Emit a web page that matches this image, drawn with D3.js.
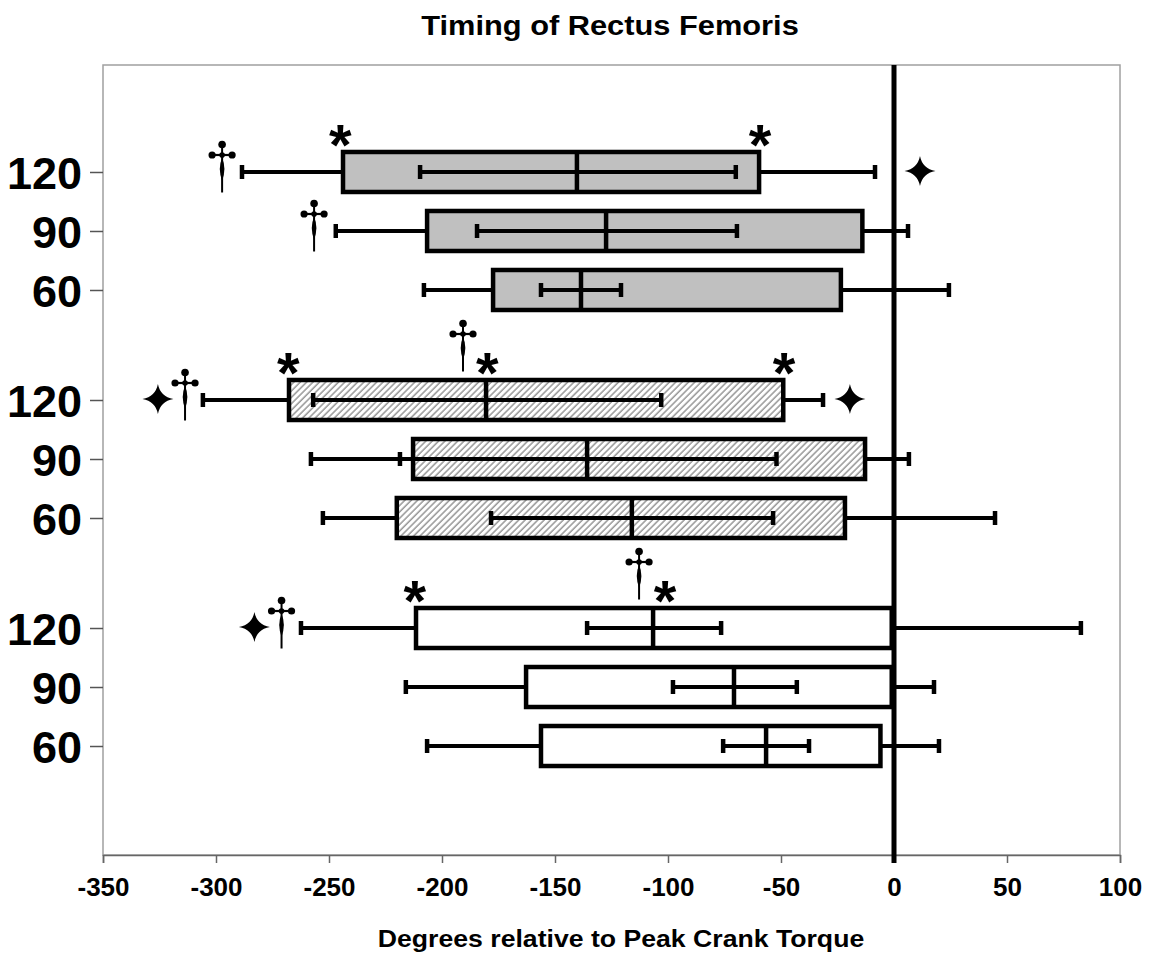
<!DOCTYPE html>
<html><head><meta charset="utf-8">
<script src="https://cdn.jsdelivr.net/npm/d3@7"></script>
<style>
body{margin:0;background:#fff;}
svg{display:block;}
text{font-family:Arial,"Liberation Sans",sans-serif;font-weight:bold;fill:#000;}
</style>
</head><body>
<svg id="chart" width="1151" height="954"></svg>
<script>
// ---------------- data ----------------
const title = "Timing of Rectus Femoris";
const xLabel = "Degrees relative to Peak Crank Torque";
const groups = ["A", "B", "C"];
const rows = ["120", "90", "60"];
const xTicks = [-350, -300, -250, -200, -150, -100, -50, 0, 50, 100];

// one entry per box, top to bottom
const boxGroup   = ["A", "A", "A", "B", "B", "B", "C", "C", "C"];
const boxRow     = ["120", "90", "60", "120", "90", "60", "120", "90", "60"];
const whiskerLow = [-288.5, -247, -208, -305.8, -258, -252.7, -262.4, -216, -206.6];
const boxLow     = [-243.8, -206.6, -177.4, -267.7, -212.8, -220, -211.5, -162.8, -156.2];
const median     = [-140.3, -127.4, -138.5, -180.5, -135.8, -116, -106.6, -70.8, -56.6];
const boxHigh    = [-59.7, -14, -23.5, -49, -12.8, -21.7, -1, -1, -6];
const whiskerHigh= [-8.4, 6.2, 24.3, -31.4, 6.6, 44.7, 82.7, 17.7, 19.9];
const innerLow   = [-209.7, -184.5, -156.2, -257, -218.6, -178.3, -135.8, -97.8, -75.6];
const innerHigh  = [-70, -69.5, -120.8, -103, -52, -53.5, -76.5, -43, -37.6];

// significance markers
const markSymbol = ["dagger", "asterisk", "asterisk", "star",
                    "dagger",
                    "star", "dagger", "asterisk", "dagger", "asterisk", "asterisk", "star",
                    "star", "dagger", "asterisk", "dagger", "asterisk"];
const markGroup  = ["A", "A", "A", "A",
                    "A",
                    "B", "B", "B", "B", "B", "B", "B",
                    "C", "C", "C", "C", "C"];
const markRow    = ["120", "120", "120", "120",
                    "90",
                    "120", "120", "120", "120", "120", "120", "120",
                    "120", "120", "120", "120", "120"];
const markX      = [-297.3, -245, -59.3, 11.5,
                    -256.6,
                    -325.7, -313.7, -268, -190.7, -180, -48.7, -19.5,
                    -283, -271, -212, -112.8, -101.3];
const markPlace  = ["side", "above", "above", "side",
                    "side",
                    "side", "side", "above", "high", "above", "above", "side",
                    "side", "side", "above", "high", "above"];

const groupFill = {A: "#c0c0c0", B: "url(#hatch)", C: "#ffffff"};

// ---------------- layout ----------------
const L = 103, R = 1120, T = 65, B = 855;
const svg = d3.select("#chart");

const x = d3.scaleLinear().domain([-350, 100]).range([L, R]);
const yGroup = d3.scaleBand().domain(groups).range([T, B - 2]).paddingInner(0).paddingOuter(0.228);
const yRow = d3.scalePoint().domain(rows).range([-59, 59]);
const yPos = (g, r) => yGroup(g) + yGroup.bandwidth() / 2 + yRow(r);
const boxH = 40;
const FONT = "Arial, 'Liberation Sans', sans-serif";

// hatch pattern
const defs = svg.append("defs");
const pat = defs.append("pattern").attr("id", "hatch")
  .attr("patternUnits", "userSpaceOnUse").attr("width", 4.5).attr("height", 4.5)
  .attr("patternTransform", "rotate(45)");
pat.append("rect").attr("width", 4.5).attr("height", 4.5).attr("fill", "#fff");
pat.append("line").attr("x1", 1).attr("x2", 1).attr("y1", 0).attr("y2", 4.5)
  .attr("stroke", "#707070").attr("stroke-width", 1.1);

// plot border
svg.append("rect").attr("x", L).attr("y", T).attr("width", R - L).attr("height", B - T)
  .attr("fill", "none").attr("stroke", "#a0a0a0").attr("stroke-width", 1.5);

// x axis
const xAxis = svg.append("g").attr("transform", `translate(0,${B})`)
  .call(d3.axisBottom(x).tickValues(xTicks).tickSize(8).tickPadding(15));
xAxis.select(".domain").attr("stroke", "#666").attr("stroke-width", 1.5);
xAxis.selectAll(".tick line").attr("stroke", "#666").attr("stroke-width", 1.5);
xAxis.selectAll(".tick text").attr("font-size", 26).attr("font-family", FONT)
  .attr("font-weight", "bold").attr("fill", "#000").text(d => String(d));

// y axes (one per group)
groups.forEach(g => {
  const ax = svg.append("g")
    .attr("transform", `translate(${L},${yGroup(g) + yGroup.bandwidth() / 2})`)
    .call(d3.axisLeft(yRow).tickSize(13).tickPadding(8));
  ax.select(".domain").remove();
  ax.selectAll(".tick line").attr("stroke", "#555").attr("stroke-width", 1.5);
  ax.selectAll(".tick text").attr("font-size", 45).attr("font-family", FONT)
    .attr("font-weight", "bold").attr("fill", "#000").attr("dy", "0.36em");
});

// boxes
const idx = d3.range(boxGroup.length);
const gBox = svg.append("g");
const SW = 4.2;
idx.forEach(i => {
  const cy = yPos(boxGroup[i], boxRow[i]);
  const g = gBox.append("g");
  g.append("line").attr("x1", x(whiskerLow[i])).attr("x2", x(boxLow[i])).attr("y1", cy).attr("y2", cy)
    .attr("stroke", "#000").attr("stroke-width", SW);
  g.append("line").attr("x1", x(boxHigh[i])).attr("x2", x(whiskerHigh[i])).attr("y1", cy).attr("y2", cy)
    .attr("stroke", "#000").attr("stroke-width", SW);
  [whiskerLow[i], whiskerHigh[i]].forEach(v => {
    g.append("line").attr("x1", x(v)).attr("x2", x(v)).attr("y1", cy - 7).attr("y2", cy + 7)
      .attr("stroke", "#000").attr("stroke-width", 4.5);
  });
  g.append("rect").attr("x", x(boxLow[i])).attr("y", cy - boxH / 2)
    .attr("width", x(boxHigh[i]) - x(boxLow[i])).attr("height", boxH)
    .attr("fill", groupFill[boxGroup[i]]).attr("stroke", "#000").attr("stroke-width", 4.5);
  g.append("line").attr("x1", x(innerLow[i])).attr("x2", x(innerHigh[i])).attr("y1", cy).attr("y2", cy)
    .attr("stroke", "#000").attr("stroke-width", SW);
  [innerLow[i], innerHigh[i]].forEach(v => {
    g.append("line").attr("x1", x(v)).attr("x2", x(v)).attr("y1", cy - 7).attr("y2", cy + 7)
      .attr("stroke", "#000").attr("stroke-width", 4.5);
  });
  g.append("line").attr("x1", x(median[i])).attr("x2", x(median[i]))
    .attr("y1", cy - boxH / 2).attr("y2", cy + boxH / 2)
    .attr("stroke", "#000").attr("stroke-width", 4.5);
});

// zero line
svg.append("line").attr("x1", x(0)).attr("x2", x(0)).attr("y1", T).attr("y2", B + 8)
  .attr("stroke", "#000").attr("stroke-width", 5);

// markers
const gMark = svg.append("g");
function dagger(sel) {
  sel.append("line").attr("x1", 0).attr("x2", 0).attr("y1", -23).attr("y2", 25.5)
    .attr("stroke", "#000").attr("stroke-width", 2);
  sel.append("line").attr("x1", -10).attr("x2", 10).attr("y1", -12).attr("y2", -12)
    .attr("stroke", "#000").attr("stroke-width", 2.2);
  [[0, -22.5, 3.8], [-10, -12, 3.6], [10, -12, 3.6], [0, -12, 2.8]].forEach(c => {
    sel.append("circle").attr("cx", c[0]).attr("cy", c[1]).attr("r", c[2]).attr("fill", "#000");
  });
  sel.append("path").attr("d", "M0,-9 Q4.6,1 0,14 Q-4.6,1 0,-9Z").attr("fill", "#000");
}
function star(sel) {
  sel.append("path").attr("d", "M0,-15 Q2.4,-2.4 15.5,0 Q2.4,2.4 0,15 Q-2.4,2.4 -15.5,0 Q-2.4,-2.4 0,-15Z")
    .attr("fill", "#000");
}
markSymbol.forEach((s, i) => {
  const cy = yPos(markGroup[i], markRow[i]);
  const px = x(markX[i]);
  const top = cy - boxH / 2;
  if (s === "asterisk") {
    gMark.append("text").attr("x", px).attr("y", top + 13).attr("text-anchor", "middle")
      .attr("font-size", 58).text("*");
  } else if (s === "dagger") {
    const py = markPlace[i] === "high" ? top - 34 : cy - 5;
    dagger(gMark.append("g").attr("transform", `translate(${px},${py})`));
  } else {
    star(gMark.append("g").attr("transform", `translate(${px},${cy - 1})`));
  }
});

// title and axis label (slightly widened lettering like the original)
svg.append("text").attr("transform", "translate(610,35) scale(1.1,1)").attr("text-anchor", "middle")
  .attr("font-size", 28).text(title);
svg.append("text").attr("transform", "translate(621,947) scale(1.11,1)").attr("text-anchor", "middle")
  .attr("font-size", 24).text(xLabel);
</script>
</body></html>
